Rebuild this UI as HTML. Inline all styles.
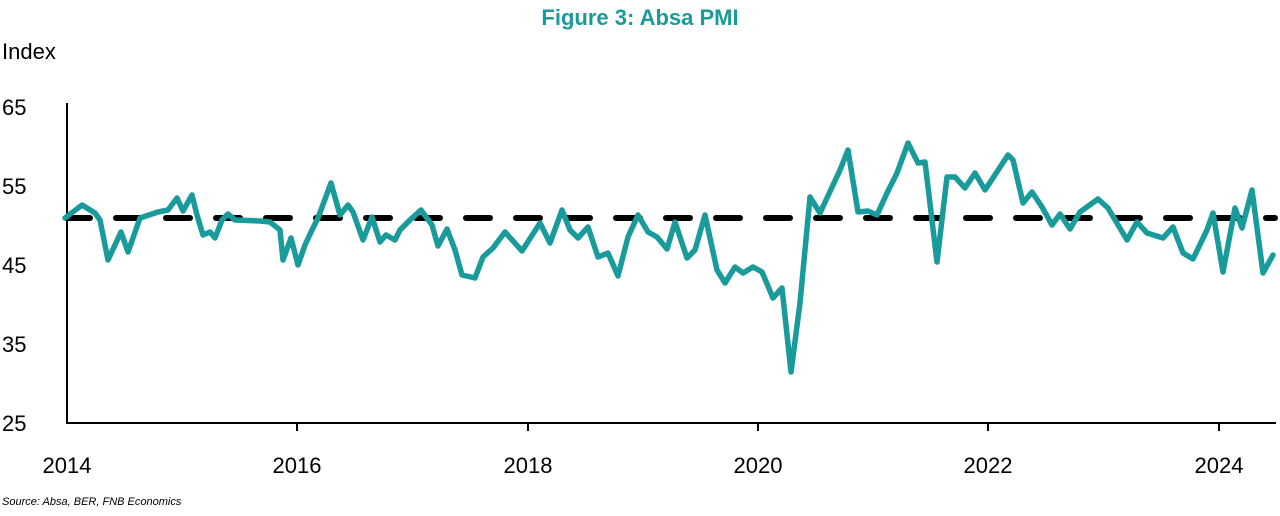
<!DOCTYPE html>
<html><head><style>
body{margin:0;background:#fff;width:1280px;height:511px;overflow:hidden;font-family:"Liberation Sans",sans-serif}
</style></head><body>
<svg width="1280" height="511" xmlns="http://www.w3.org/2000/svg" font-family="Liberation Sans, sans-serif">
<text x="640" y="25" text-anchor="middle" font-size="22" font-weight="bold" fill="#1a9b9b">Figure 3: Absa PMI</text>
<text x="2" y="59" font-size="22" fill="#000">Index</text>
<g font-size="22" fill="#000">
<text x="2" y="115">65</text><text x="2" y="194">55</text><text x="2" y="273">45</text><text x="2" y="352">35</text><text x="2" y="431">25</text>
</g>
<g font-size="22" fill="#000" text-anchor="middle">
<text x="67" y="473">2014</text><text x="297" y="473">2016</text><text x="528" y="473">2018</text><text x="758" y="473">2020</text><text x="988" y="473">2022</text><text x="1219" y="473">2024</text>
</g>
<text x="2" y="505" font-size="11" font-style="italic" fill="#000">Source: Absa, BER, FNB Economics</text>
<line x1="67" y1="103" x2="67" y2="424" stroke="#000" stroke-width="2"/>
<line x1="66" y1="423" x2="1276" y2="423" stroke="#000" stroke-width="2"/>
<g stroke="#000" stroke-width="2"><line x1="297" y1="423" x2="297" y2="431"/><line x1="528" y1="423" x2="528" y2="431"/><line x1="758" y1="423" x2="758" y2="431"/><line x1="988" y1="423" x2="988" y2="431"/><line x1="1219" y1="423" x2="1219" y2="431"/></g>
<line x1="66" y1="218" x2="1275" y2="218" stroke="#000" stroke-width="6" stroke-dasharray="24 26" stroke-linecap="round"/>
<polyline fill="none" stroke="#1a9b9b" stroke-width="5.5" stroke-linejoin="round" stroke-linecap="round" points="65,218 82,205 95,213 100,220 108,260 121,232 128,252 140,218 158,212 168,210 177,198 183,211 192,195 197,215 203,235 210,232 215,238 222,220 228,214 235,220 260,221 270,222 280,230 283,260 291,238 298,265 305,245 312,230 318,218 331,183 340,215 348,205 353,212 363,240 372,217 380,242 386,235 395,240 400,230 410,220 421,210 432,225 438,246 447,229 455,250 462,275 475,278 483,257 493,248 505,232 522,251 540,223 550,243 562,210 570,230 578,238 588,227 598,257 608,253 618,276 628,237 638,215 648,232 657,237 667,249 675,222 687,258 695,250 705,215 717,270 725,283 735,267 743,273 753,267 762,272 773,298 782,288 791,372 800,303 810,197 820,213 840,170 848,150 858,212 868,211 877,215 887,193 897,173 908,143 918,163 925,162 937,262 947,177 955,177 965,188 975,173 985,190 1008,155 1013,160 1023,203 1032,192 1042,207 1052,225 1060,214 1070,229 1080,212 1098,199 1108,208 1127,240 1137,222 1147,233 1163,238 1173,227 1183,253 1193,259 1207,230 1213,213 1223,272 1235,208 1242,228 1252,190 1263,273 1273,255"/>
</svg>
</body></html>
